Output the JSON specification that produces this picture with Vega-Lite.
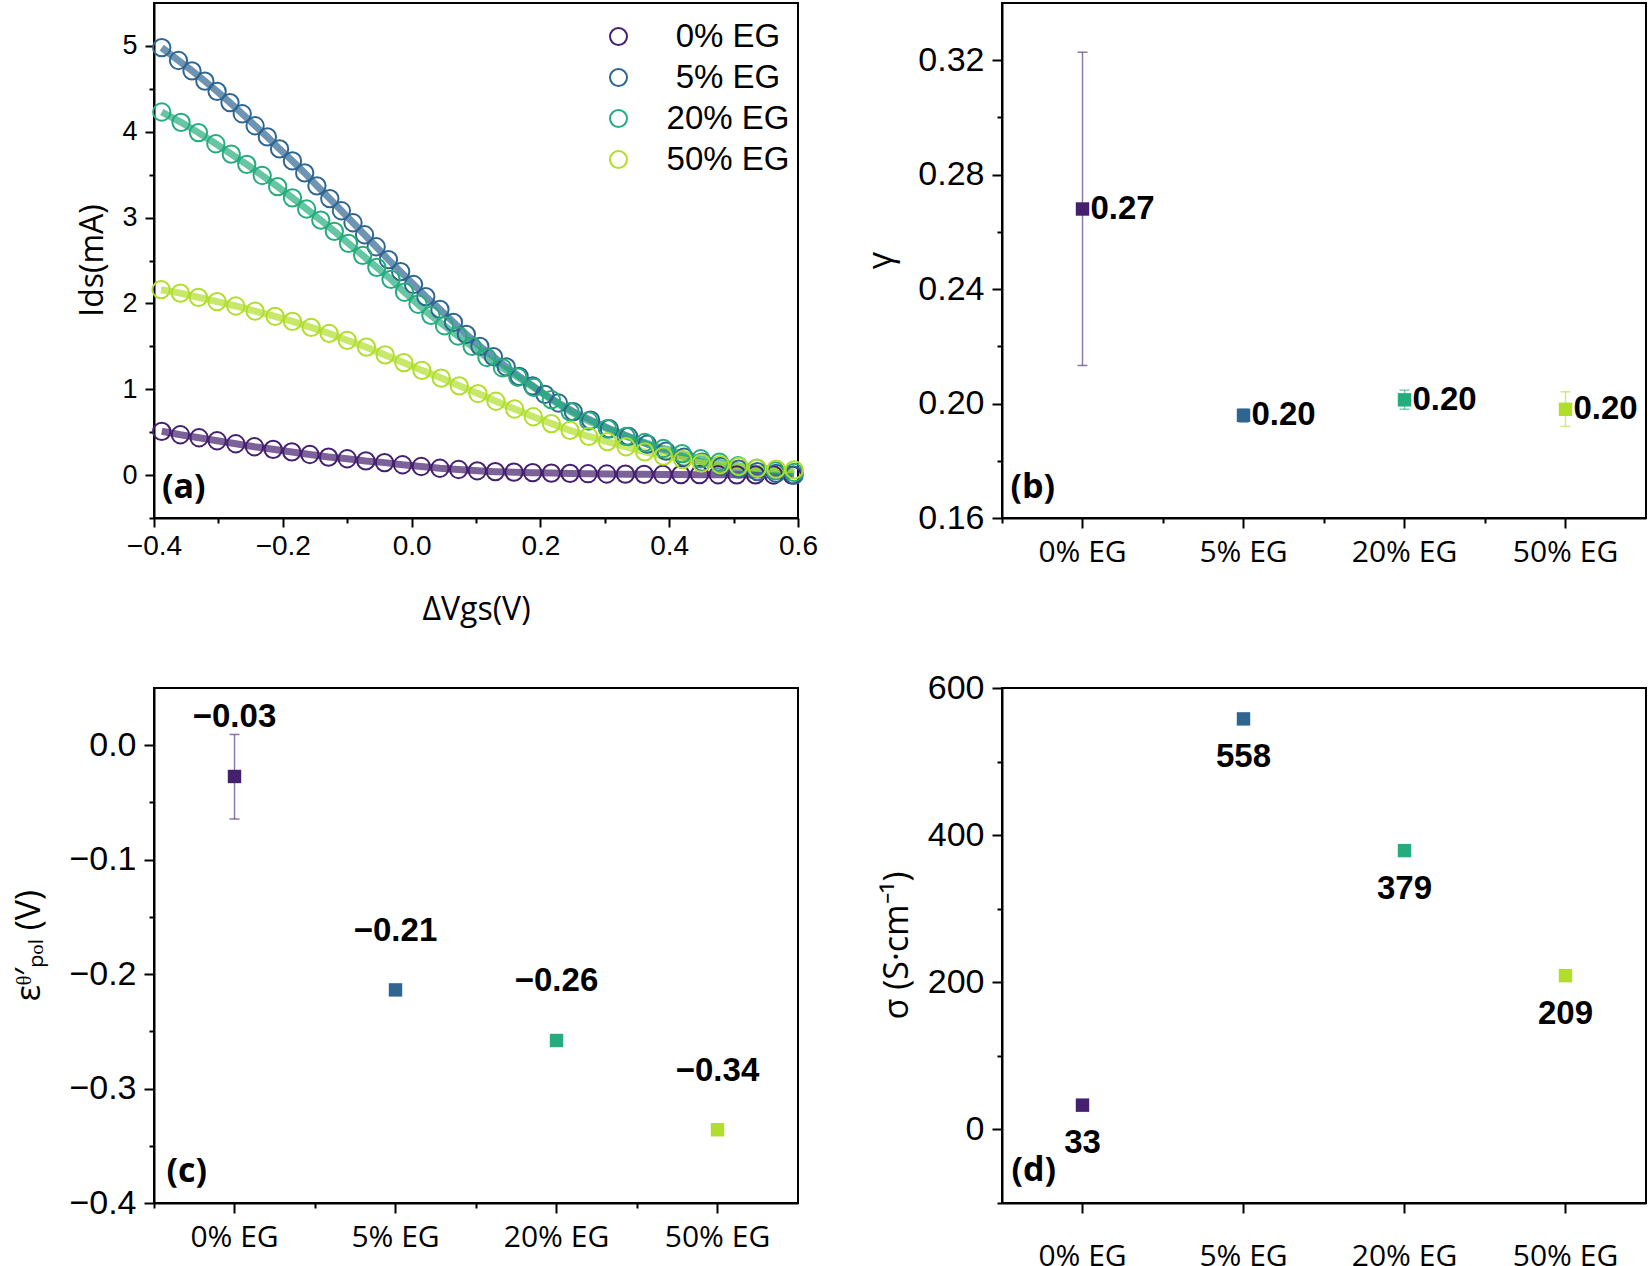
{
  "$schema": "https://vega.github.io/schema/vega-lite/v6.json",
  "padding": {"left": 11, "top": 2, "right": 0, "bottom": 0},
  "background": "white",
  "columns": 2,
  "spacing": {"row": 170, "column": 204},
  "bounds": "flush",
  "resolve": {"scale": {"color": "independent"}, "legend": {"color": "independent"}},
  "config": {
    "view": {"stroke": "black", "strokeWidth": 2},
    "axis": {
      "domainColor": "black", "domainWidth": 2, "tickColor": "black", "tickWidth": 2,
      "labelColor": "black", "labelFont": "Liberation Sans", "labelFontSize": 34,
      "titleColor": "black", "titleFont": "Open Sans", "titleFontSize": 32, "titleFontWeight": "normal",
      "grid": false, "labelFlush": false, "labelOverlap": false, "labelBound": false
    }
  },
  "concat": [
    {
      "width": 644, "height": 515,
      "data": {"values": [
        {"sample": "0% EG", "dVgs": -0.388, "Ids": 0.51}, {"sample": "0% EG", "dVgs": -0.359, "Ids": 0.47},
        {"sample": "0% EG", "dVgs": -0.330, "Ids": 0.435}, {"sample": "0% EG", "dVgs": -0.302, "Ids": 0.40},
        {"sample": "0% EG", "dVgs": -0.273, "Ids": 0.365}, {"sample": "0% EG", "dVgs": -0.244, "Ids": 0.33},
        {"sample": "0% EG", "dVgs": -0.215, "Ids": 0.30}, {"sample": "0% EG", "dVgs": -0.186, "Ids": 0.27},
        {"sample": "0% EG", "dVgs": -0.158, "Ids": 0.24}, {"sample": "0% EG", "dVgs": -0.129, "Ids": 0.21},
        {"sample": "0% EG", "dVgs": -0.100, "Ids": 0.19}, {"sample": "0% EG", "dVgs": -0.071, "Ids": 0.165},
        {"sample": "0% EG", "dVgs": -0.042, "Ids": 0.145}, {"sample": "0% EG", "dVgs": -0.014, "Ids": 0.12},
        {"sample": "0% EG", "dVgs": 0.015, "Ids": 0.10}, {"sample": "0% EG", "dVgs": 0.044, "Ids": 0.08},
        {"sample": "0% EG", "dVgs": 0.073, "Ids": 0.065}, {"sample": "0% EG", "dVgs": 0.102, "Ids": 0.05},
        {"sample": "0% EG", "dVgs": 0.130, "Ids": 0.04}, {"sample": "0% EG", "dVgs": 0.159, "Ids": 0.034},
        {"sample": "0% EG", "dVgs": 0.188, "Ids": 0.028}, {"sample": "0% EG", "dVgs": 0.217, "Ids": 0.023},
        {"sample": "0% EG", "dVgs": 0.246, "Ids": 0.019}, {"sample": "0% EG", "dVgs": 0.274, "Ids": 0.016},
        {"sample": "0% EG", "dVgs": 0.303, "Ids": 0.013}, {"sample": "0% EG", "dVgs": 0.332, "Ids": 0.011},
        {"sample": "0% EG", "dVgs": 0.361, "Ids": 0.009}, {"sample": "0% EG", "dVgs": 0.390, "Ids": 0.007},
        {"sample": "0% EG", "dVgs": 0.418, "Ids": 0.006}, {"sample": "0% EG", "dVgs": 0.447, "Ids": 0.005},
        {"sample": "0% EG", "dVgs": 0.476, "Ids": 0.004}, {"sample": "0% EG", "dVgs": 0.505, "Ids": 0.003},
        {"sample": "0% EG", "dVgs": 0.534, "Ids": 0.002}, {"sample": "0% EG", "dVgs": 0.562, "Ids": 0.001},
        {"sample": "0% EG", "dVgs": 0.591, "Ids": 0.0},
        {"sample": "5% EG", "dVgs": -0.388, "Ids": 4.98}, {"sample": "5% EG", "dVgs": -0.362, "Ids": 4.83},
        {"sample": "5% EG", "dVgs": -0.341, "Ids": 4.71}, {"sample": "5% EG", "dVgs": -0.321, "Ids": 4.59},
        {"sample": "5% EG", "dVgs": -0.302, "Ids": 4.47}, {"sample": "5% EG", "dVgs": -0.282, "Ids": 4.34},
        {"sample": "5% EG", "dVgs": -0.263, "Ids": 4.21}, {"sample": "5% EG", "dVgs": -0.243, "Ids": 4.07},
        {"sample": "5% EG", "dVgs": -0.224, "Ids": 3.94}, {"sample": "5% EG", "dVgs": -0.205, "Ids": 3.80},
        {"sample": "5% EG", "dVgs": -0.185, "Ids": 3.66}, {"sample": "5% EG", "dVgs": -0.166, "Ids": 3.52},
        {"sample": "5% EG", "dVgs": -0.147, "Ids": 3.37}, {"sample": "5% EG", "dVgs": -0.127, "Ids": 3.22},
        {"sample": "5% EG", "dVgs": -0.109, "Ids": 3.08}, {"sample": "5% EG", "dVgs": -0.091, "Ids": 2.94},
        {"sample": "5% EG", "dVgs": -0.073, "Ids": 2.80}, {"sample": "5% EG", "dVgs": -0.055, "Ids": 2.66},
        {"sample": "5% EG", "dVgs": -0.036, "Ids": 2.51}, {"sample": "5% EG", "dVgs": -0.017, "Ids": 2.37},
        {"sample": "5% EG", "dVgs": 0.003, "Ids": 2.22}, {"sample": "5% EG", "dVgs": 0.022, "Ids": 2.08},
        {"sample": "5% EG", "dVgs": 0.044, "Ids": 1.93}, {"sample": "5% EG", "dVgs": 0.065, "Ids": 1.78},
        {"sample": "5% EG", "dVgs": 0.085, "Ids": 1.64}, {"sample": "5% EG", "dVgs": 0.106, "Ids": 1.50},
        {"sample": "5% EG", "dVgs": 0.127, "Ids": 1.38}, {"sample": "5% EG", "dVgs": 0.147, "Ids": 1.26},
        {"sample": "5% EG", "dVgs": 0.167, "Ids": 1.15}, {"sample": "5% EG", "dVgs": 0.188, "Ids": 1.04},
        {"sample": "5% EG", "dVgs": 0.207, "Ids": 0.94}, {"sample": "5% EG", "dVgs": 0.228, "Ids": 0.84},
        {"sample": "5% EG", "dVgs": 0.251, "Ids": 0.74}, {"sample": "5% EG", "dVgs": 0.278, "Ids": 0.64},
        {"sample": "5% EG", "dVgs": 0.307, "Ids": 0.54}, {"sample": "5% EG", "dVgs": 0.337, "Ids": 0.45},
        {"sample": "5% EG", "dVgs": 0.366, "Ids": 0.36}, {"sample": "5% EG", "dVgs": 0.395, "Ids": 0.28},
        {"sample": "5% EG", "dVgs": 0.423, "Ids": 0.21}, {"sample": "5% EG", "dVgs": 0.451, "Ids": 0.15},
        {"sample": "5% EG", "dVgs": 0.480, "Ids": 0.10}, {"sample": "5% EG", "dVgs": 0.508, "Ids": 0.07},
        {"sample": "5% EG", "dVgs": 0.537, "Ids": 0.04}, {"sample": "5% EG", "dVgs": 0.566, "Ids": 0.02},
        {"sample": "5% EG", "dVgs": 0.594, "Ids": 0.00},
        {"sample": "20% EG", "dVgs": -0.388, "Ids": 4.23}, {"sample": "20% EG", "dVgs": -0.358, "Ids": 4.11},
        {"sample": "20% EG", "dVgs": -0.331, "Ids": 3.99}, {"sample": "20% EG", "dVgs": -0.304, "Ids": 3.86},
        {"sample": "20% EG", "dVgs": -0.280, "Ids": 3.74}, {"sample": "20% EG", "dVgs": -0.256, "Ids": 3.62},
        {"sample": "20% EG", "dVgs": -0.232, "Ids": 3.49}, {"sample": "20% EG", "dVgs": -0.208, "Ids": 3.36},
        {"sample": "20% EG", "dVgs": -0.185, "Ids": 3.23}, {"sample": "20% EG", "dVgs": -0.163, "Ids": 3.10},
        {"sample": "20% EG", "dVgs": -0.141, "Ids": 2.97}, {"sample": "20% EG", "dVgs": -0.120, "Ids": 2.84},
        {"sample": "20% EG", "dVgs": -0.098, "Ids": 2.70}, {"sample": "20% EG", "dVgs": -0.076, "Ids": 2.56},
        {"sample": "20% EG", "dVgs": -0.054, "Ids": 2.42}, {"sample": "20% EG", "dVgs": -0.032, "Ids": 2.28},
        {"sample": "20% EG", "dVgs": -0.011, "Ids": 2.13}, {"sample": "20% EG", "dVgs": 0.010, "Ids": 1.99},
        {"sample": "20% EG", "dVgs": 0.030, "Ids": 1.86}, {"sample": "20% EG", "dVgs": 0.051, "Ids": 1.74},
        {"sample": "20% EG", "dVgs": 0.072, "Ids": 1.62}, {"sample": "20% EG", "dVgs": 0.094, "Ids": 1.50},
        {"sample": "20% EG", "dVgs": 0.117, "Ids": 1.37}, {"sample": "20% EG", "dVgs": 0.141, "Ids": 1.25},
        {"sample": "20% EG", "dVgs": 0.165, "Ids": 1.14}, {"sample": "20% EG", "dVgs": 0.190, "Ids": 1.02},
        {"sample": "20% EG", "dVgs": 0.217, "Ids": 0.88}, {"sample": "20% EG", "dVgs": 0.246, "Ids": 0.74},
        {"sample": "20% EG", "dVgs": 0.275, "Ids": 0.63}, {"sample": "20% EG", "dVgs": 0.304, "Ids": 0.54},
        {"sample": "20% EG", "dVgs": 0.333, "Ids": 0.45}, {"sample": "20% EG", "dVgs": 0.362, "Ids": 0.38},
        {"sample": "20% EG", "dVgs": 0.391, "Ids": 0.31}, {"sample": "20% EG", "dVgs": 0.420, "Ids": 0.25},
        {"sample": "20% EG", "dVgs": 0.449, "Ids": 0.19}, {"sample": "20% EG", "dVgs": 0.478, "Ids": 0.15},
        {"sample": "20% EG", "dVgs": 0.507, "Ids": 0.11}, {"sample": "20% EG", "dVgs": 0.536, "Ids": 0.08},
        {"sample": "20% EG", "dVgs": 0.565, "Ids": 0.05}, {"sample": "20% EG", "dVgs": 0.594, "Ids": 0.03},
        {"sample": "50% EG", "dVgs": -0.389, "Ids": 2.16}, {"sample": "50% EG", "dVgs": -0.359, "Ids": 2.12},
        {"sample": "50% EG", "dVgs": -0.331, "Ids": 2.07}, {"sample": "50% EG", "dVgs": -0.302, "Ids": 2.02},
        {"sample": "50% EG", "dVgs": -0.273, "Ids": 1.97}, {"sample": "50% EG", "dVgs": -0.243, "Ids": 1.91},
        {"sample": "50% EG", "dVgs": -0.212, "Ids": 1.85}, {"sample": "50% EG", "dVgs": -0.185, "Ids": 1.79},
        {"sample": "50% EG", "dVgs": -0.156, "Ids": 1.72}, {"sample": "50% EG", "dVgs": -0.128, "Ids": 1.65},
        {"sample": "50% EG", "dVgs": -0.100, "Ids": 1.57}, {"sample": "50% EG", "dVgs": -0.070, "Ids": 1.49},
        {"sample": "50% EG", "dVgs": -0.041, "Ids": 1.40}, {"sample": "50% EG", "dVgs": -0.012, "Ids": 1.31},
        {"sample": "50% EG", "dVgs": 0.016, "Ids": 1.22}, {"sample": "50% EG", "dVgs": 0.046, "Ids": 1.13},
        {"sample": "50% EG", "dVgs": 0.074, "Ids": 1.04}, {"sample": "50% EG", "dVgs": 0.103, "Ids": 0.95},
        {"sample": "50% EG", "dVgs": 0.131, "Ids": 0.86}, {"sample": "50% EG", "dVgs": 0.160, "Ids": 0.77},
        {"sample": "50% EG", "dVgs": 0.189, "Ids": 0.68}, {"sample": "50% EG", "dVgs": 0.217, "Ids": 0.60},
        {"sample": "50% EG", "dVgs": 0.246, "Ids": 0.52}, {"sample": "50% EG", "dVgs": 0.275, "Ids": 0.45},
        {"sample": "50% EG", "dVgs": 0.304, "Ids": 0.39}, {"sample": "50% EG", "dVgs": 0.333, "Ids": 0.33},
        {"sample": "50% EG", "dVgs": 0.362, "Ids": 0.27}, {"sample": "50% EG", "dVgs": 0.391, "Ids": 0.22},
        {"sample": "50% EG", "dVgs": 0.421, "Ids": 0.18}, {"sample": "50% EG", "dVgs": 0.450, "Ids": 0.14},
        {"sample": "50% EG", "dVgs": 0.479, "Ids": 0.12}, {"sample": "50% EG", "dVgs": 0.508, "Ids": 0.10},
        {"sample": "50% EG", "dVgs": 0.537, "Ids": 0.08}, {"sample": "50% EG", "dVgs": 0.566, "Ids": 0.07},
        {"sample": "50% EG", "dVgs": 0.594, "Ids": 0.06}
      ]},
      "layer": [
        {
          "mark": {"type": "line", "strokeWidth": 7, "opacity": 0.7},
          "encoding": {
            "x": {"field": "dVgs", "type": "quantitative", "scale": {"domain": [-0.4, 0.6], "nice": false, "zero": false}},
            "y": {"field": "Ids", "type": "quantitative", "scale": {"domain": [-0.5, 5.5], "nice": false, "zero": false}},
            "color": {"field": "sample", "type": "nominal", "scale": {"domain": ["0% EG", "5% EG", "20% EG", "50% EG"], "range": ["#44206e", "#2f6691", "#25ac7c", "#b0de2a"]},
              "legend": {"title": null, "orient": "none", "legendX": 448, "legendY": 17, "padding": 0,
                "labelFont": "Liberation Sans", "labelFontSize": 33, "labelColor": "black", "labelAlign": "center", "labelOffset": 93,
                "symbolType": "circle", "symbolSize": 289, "symbolStrokeWidth": 2, "symbolOpacity": 1, "symbolFillColor": "transparent", "rowPadding": 7}}
          }
        },
        {
          "mark": {"type": "point", "filled": false, "size": 300, "strokeWidth": 2, "opacity": 1},
          "encoding": {
            "x": {"field": "dVgs", "type": "quantitative",
              "axis": {"title": "ΔVgs(V)", "values": [-0.4, -0.3, -0.2, -0.1, 0, 0.1, 0.2, 0.3, 0.4, 0.5, 0.6], "format": ".1f",
                "labelFontSize": 28,
                "labelExpr": "abs(round(datum.value*10)) % 2 === 0 ? datum.label : ''",
                "tickSize": {"condition": {"test": "abs(round(datum.value*10)) % 2 === 0", "value": 9}, "value": 5},
                "labelPadding": 5, "titleX": 322, "titleY": 91, "titleBaseline": "middle"}},
            "y": {"field": "Ids", "type": "quantitative",
              "axis": {"title": "Ids(mA)", "values": [-0.5, 0, 0.5, 1, 1.5, 2, 2.5, 3, 3.5, 4, 4.5, 5], "format": ".0f",
                "labelFontSize": 27,
                "labelExpr": "datum.value % 1 === 0 ? datum.label : ''",
                "tickSize": {"condition": {"test": "datum.value % 1 === 0", "value": 9}, "value": 5},
                "labelPadding": 8, "titleX": -62, "titleY": 257, "titleBaseline": "middle"}},
            "color": {"field": "sample", "type": "nominal", "scale": {"domain": ["0% EG", "5% EG", "20% EG", "50% EG"], "range": ["#44206e", "#2f6691", "#25ac7c", "#b0de2a"]},
              "legend": {"title": null, "orient": "none", "legendX": 448, "legendY": 17, "padding": 0,
                "labelFont": "Liberation Sans", "labelFontSize": 33, "labelColor": "black", "labelAlign": "center", "labelOffset": 93,
                "symbolType": "circle", "symbolSize": 289, "symbolStrokeWidth": 2, "symbolOpacity": 1, "symbolFillColor": "transparent", "rowPadding": 7}}
          }
        },
        {
          "data": {"values": [{}]},
          "mark": {"type": "text", "text": "(a)", "font": "Open Sans", "fontWeight": "bold", "fontSize": 34, "color": "black", "align": "left", "baseline": "alphabetic", "dx": 8, "dy": -20},
          "encoding": {
            "x": {"datum": -0.4, "type": "quantitative"},
            "y": {"datum": -0.5, "type": "quantitative"}
          }
        }
      ]
    },
    {
      "width": 644, "height": 515,
      "data": {"values": [
        {"sample": "0% EG", "val": 0.268, "lo": 0.2133, "hi": 0.3228, "label": "0.27"},
        {"sample": "5% EG", "val": 0.1959, "lo": 0.1935, "hi": 0.198, "label": "0.20"},
        {"sample": "20% EG", "val": 0.2013, "lo": 0.198, "hi": 0.2047, "label": "0.20"},
        {"sample": "50% EG", "val": 0.198, "lo": 0.192, "hi": 0.2041, "label": "0.20"}
      ]},
      "layer": [
        {
          "mark": {"type": "errorbar", "ticks": {"size": 10, "thickness": 1.5, "opacity": 0.6}, "rule": {"strokeWidth": 1.5, "opacity": 0.6}},
          "encoding": {
            "x": {"field": "sample", "type": "nominal", "sort": null,
              "scale": {"type": "band", "domain": ["0% EG", "5% EG", "20% EG", "50% EG"], "paddingInner": 0, "paddingOuter": 0},
              "axis": {"orient": "bottom", "title": null, "labels": false, "tickSize": 5, "bandPosition": 0, "domain": false}},
            "y": {"field": "lo", "type": "quantitative", "scale": {"domain": [0.16, 0.34], "nice": false, "zero": false},
              "axis": {"title": "γ", "values": [0.16, 0.18, 0.2, 0.22, 0.24, 0.26, 0.28, 0.3, 0.32], "format": ".2f",
                "labelExpr": "round(datum.value*100) % 4 === 0 ? datum.label : ''",
                "tickSize": {"condition": {"test": "round(datum.value*100) % 4 === 0", "value": 10}, "value": 5},
                "labelPadding": 8, "titleX": -121, "titleY": 257, "titleBaseline": "middle", "titleFontSize": 34}},
            "y2": {"field": "hi"},
            "color": {"field": "sample", "type": "nominal", "scale": {"domain": ["0% EG", "5% EG", "20% EG", "50% EG"], "range": ["#44206e", "#2f6691", "#25ac7c", "#b0de2a"]}, "legend": null}
          }
        },
        {
          "mark": {"type": "square", "size": 180, "opacity": 1},
          "encoding": {
            "x": {"field": "sample", "type": "nominal", "sort": null,
              "axis": {"orient": "bottom", "title": null, "labelAngle": 0, "labelFont": "Open Sans", "labelFontSize": 30, "tickSize": 10, "labelPadding": 9}},
            "y": {"field": "val", "type": "quantitative"},
            "color": {"field": "sample", "type": "nominal", "scale": {"domain": ["0% EG", "5% EG", "20% EG", "50% EG"], "range": ["#44206e", "#2f6691", "#25ac7c", "#b0de2a"]}, "legend": null}
          }
        },
        {
          "mark": {"type": "text", "font": "Liberation Sans", "fontWeight": "bold", "fontSize": 33, "color": "black", "align": "left", "baseline": "middle", "dx": 8},
          "encoding": {
            "x": {"field": "sample", "type": "nominal", "sort": null, "axis": null},
            "y": {"field": "val", "type": "quantitative"},
            "text": {"field": "label"}
          }
        },
        {
          "data": {"values": [{}]},
          "mark": {"type": "text", "text": "(b)", "font": "Open Sans", "fontWeight": "bold", "fontSize": 34, "color": "black", "align": "left", "baseline": "alphabetic", "dx": -72, "dy": -20},
          "encoding": {
            "x": {"datum": "0% EG", "type": "nominal", "axis": null},
            "y": {"datum": 0.16, "type": "quantitative"}
          }
        }
      ],
      "resolve": {"axis": {"x": "independent"}}
    },
    {
      "width": 644, "height": 515,
      "data": {"values": [
        {"sample": "0% EG", "val": -0.0273, "lo": -0.0645, "hi": 0.0094, "label": "−0.03"},
        {"sample": "5% EG", "val": -0.2138, "lo": -0.2148, "hi": -0.2128, "label": "−0.21"},
        {"sample": "20% EG", "val": -0.258, "lo": -0.259, "hi": -0.257, "label": "−0.26"},
        {"sample": "50% EG", "val": -0.336, "lo": -0.337, "hi": -0.335, "label": "−0.34"}
      ]},
      "layer": [
        {
          "mark": {"type": "errorbar", "ticks": {"size": 10, "thickness": 1.5, "opacity": 0.6}, "rule": {"strokeWidth": 1.5, "opacity": 0.6}},
          "encoding": {
            "x": {"field": "sample", "type": "nominal", "sort": null,
              "scale": {"type": "band", "domain": ["0% EG", "5% EG", "20% EG", "50% EG"], "paddingInner": 0, "paddingOuter": 0},
              "axis": {"orient": "bottom", "title": null, "labels": false, "tickSize": 5, "bandPosition": 0, "domain": false}},
            "y": {"field": "lo", "type": "quantitative", "scale": {"domain": [-0.4, 0.05], "nice": false, "zero": false},
              "axis": {"title": "εᶿ′ₚₒₗ (V)", "values": [-0.4, -0.35, -0.3, -0.25, -0.2, -0.15, -0.1, -0.05, 0], "format": ".1f",
                "labelExpr": "abs(round(datum.value*100)) % 10 === 0 ? datum.label : ''",
                "tickSize": {"condition": {"test": "abs(round(datum.value*100)) % 10 === 0", "value": 10}, "value": 5},
                "labelPadding": 8, "titleX": -125, "titleY": 257, "titleBaseline": "middle", "titleFontSize": 34}},
            "y2": {"field": "hi"},
            "color": {"field": "sample", "type": "nominal", "scale": {"domain": ["0% EG", "5% EG", "20% EG", "50% EG"], "range": ["#44206e", "#2f6691", "#25ac7c", "#b0de2a"]}, "legend": null}
          }
        },
        {
          "mark": {"type": "square", "size": 180, "opacity": 1},
          "encoding": {
            "x": {"field": "sample", "type": "nominal", "sort": null,
              "axis": {"orient": "bottom", "title": null, "labelAngle": 0, "labelFont": "Open Sans", "labelFontSize": 30, "tickSize": 10, "labelPadding": 9}},
            "y": {"field": "val", "type": "quantitative"},
            "color": {"field": "sample", "type": "nominal", "scale": {"domain": ["0% EG", "5% EG", "20% EG", "50% EG"], "range": ["#44206e", "#2f6691", "#25ac7c", "#b0de2a"]}, "legend": null}
          }
        },
        {
          "mark": {"type": "text", "font": "Liberation Sans", "fontWeight": "bold", "fontSize": 33, "color": "black", "align": "center", "baseline": "middle", "dy": -59},
          "encoding": {
            "x": {"field": "sample", "type": "nominal", "sort": null, "axis": null},
            "y": {"field": "val", "type": "quantitative"},
            "text": {"field": "label"}
          }
        },
        {
          "data": {"values": [{}]},
          "mark": {"type": "text", "text": "(c)", "font": "Open Sans", "fontWeight": "bold", "fontSize": 34, "color": "black", "align": "left", "baseline": "alphabetic", "dx": -68, "dy": -21},
          "encoding": {
            "x": {"datum": "0% EG", "type": "nominal", "axis": null},
            "y": {"datum": -0.4, "type": "quantitative"}
          }
        }
      ],
      "resolve": {"axis": {"x": "independent"}}
    },
    {
      "width": 644, "height": 515,
      "data": {"values": [
        {"sample": "0% EG", "val": 33, "label": "33"},
        {"sample": "5% EG", "val": 558, "label": "558"},
        {"sample": "20% EG", "val": 379, "label": "379"},
        {"sample": "50% EG", "val": 209, "label": "209"}
      ]},
      "layer": [
        {
          "mark": {"type": "square", "size": 180, "opacity": 1},
          "encoding": {
            "x": {"field": "sample", "type": "nominal", "sort": null,
              "scale": {"type": "band", "domain": ["0% EG", "5% EG", "20% EG", "50% EG"], "paddingInner": 0, "paddingOuter": 0},
              "axis": {"title": null, "labelAngle": 0, "labelFont": "Open Sans", "labelFontSize": 30, "tickSize": 10, "labelPadding": 28}},
            "y": {"field": "val", "type": "quantitative", "scale": {"domain": [-100, 600], "nice": false, "zero": false},
              "axis": {"title": "σ (S·cm⁻¹)", "values": [-100, 0, 100, 200, 300, 400, 500, 600], "format": ".0f",
                "labelExpr": "datum.value % 200 === 0 ? datum.label : ''",
                "tickSize": {"condition": {"test": "datum.value % 200 === 0", "value": 10}, "value": 5},
                "labelPadding": 8, "titleX": -105, "titleY": 257, "titleBaseline": "middle", "titleFontSize": 34}},
            "color": {"field": "sample", "type": "nominal", "scale": {"domain": ["0% EG", "5% EG", "20% EG", "50% EG"], "range": ["#44206e", "#2f6691", "#25ac7c", "#b0de2a"]}, "legend": null}
          }
        },
        {
          "mark": {"type": "text", "font": "Liberation Sans", "fontWeight": "bold", "fontSize": 33, "color": "black", "align": "center", "baseline": "middle", "dy": 38},
          "encoding": {
            "x": {"field": "sample", "type": "nominal", "sort": null},
            "y": {"field": "val", "type": "quantitative"},
            "text": {"field": "label"}
          }
        },
        {
          "data": {"values": [{}]},
          "mark": {"type": "text", "text": "(d)", "font": "Open Sans", "fontWeight": "bold", "fontSize": 34, "color": "black", "align": "left", "baseline": "alphabetic", "dx": -71, "dy": -22},
          "encoding": {
            "x": {"datum": "0% EG", "type": "nominal"},
            "y": {"datum": -100, "type": "quantitative"}
          }
        }
      ]
    }
  ]
}
